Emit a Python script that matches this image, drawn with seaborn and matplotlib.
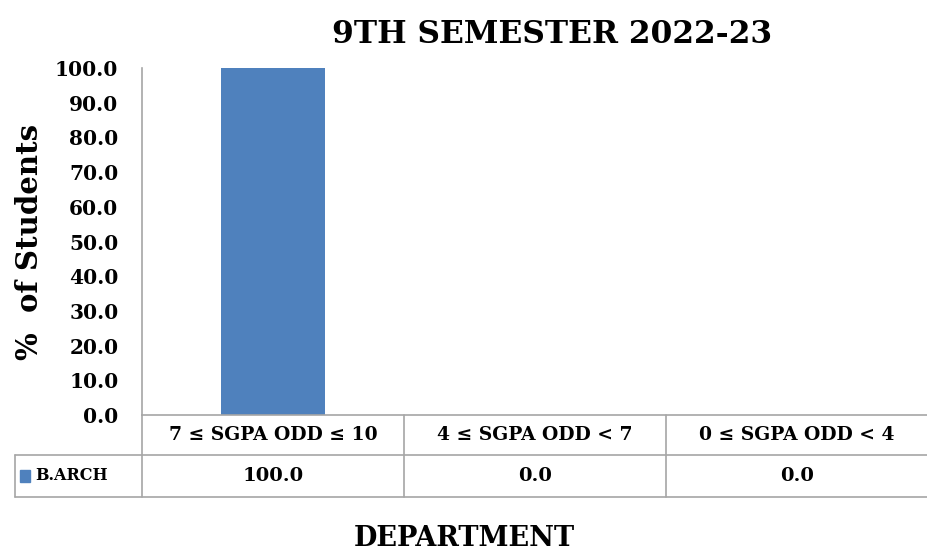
import pandas as pd
import seaborn as sns
import matplotlib.pyplot as plt
from matplotlib.patches import Rectangle
import matplotlib.transforms as mtransforms

# datos
categorias = ["7 ≤ SGPA ODD ≤ 10", "4 ≤ SGPA ODD < 7", "0 ≤ SGPA ODD < 4"]
valores = [100.0, 0.0, 0.0]
serie = "B.ARCH"
yticks = [0, 10, 20, 30, 40, 50, 60, 70, 80, 90, 100]

color_barra = "#4F81BD"
color_linea = "#A6A6A6"

sns.set_style("white")
plt.rcParams["font.family"] = ["DejaVu Serif", "DejaVu Sans"]
plt.rcParams["font.weight"] = "bold"
plt.rcParams["text.color"] = "black"
plt.rcParams["ytick.color"] = "black"
plt.rcParams["axes.labelcolor"] = "black"

df = pd.DataFrame({"categoria": categorias, "valor": valores})

fig = plt.figure(figsize=(9.28, 5.55), dpi=100)
ax = fig.add_axes([142 / 928, 140 / 555, 786 / 928, 347 / 555])

sns.barplot(data=df, x="categoria", y="valor", color=color_barra,
            width=0.4, saturation=1, linewidth=0, ax=ax)

ax.set_xlim(-0.5, 2.5)
ax.set_ylim(0, 100)
ax.set_yticks(yticks)
ax.set_yticklabels([f"{v:.1f}" for v in yticks], fontsize=14.5, fontweight="bold")
ax.tick_params(axis="y", length=0, pad=17)
ax.set_xticks([])
ax.set_xlabel("")
ax.set_ylabel("%  of Students", fontsize=21, fontweight="bold", labelpad=8)
ax.set_title("9TH SEMESTER 2022-23", fontsize=22.5, fontweight="bold", pad=18,
             x=(552 - 142) / 786)

for s in ["top", "right"]:
    ax.spines[s].set_visible(False)
for s in ["left", "bottom"]:
    ax.spines[s].set_color(color_linea)
    ax.spines[s].set_linewidth(1.2)

# tabla de datos debajo del eje
trans = mtransforms.blended_transform_factory(ax.transData, ax.transAxes)
fila1 = -40 / 347
fila2 = -82 / 347
izq = -127 / 786

lk = dict(color=color_linea, lw=1.2, clip_on=False)
ax.plot([-0.5, -0.5], [0, fila2], transform=trans, **lk)
for xb in [0.5, 1.5, 2.5]:
    ax.plot([xb, xb], [0, fila2], transform=trans, **lk)
ax.plot([izq, 1], [fila1, fila1], transform=ax.transAxes, **lk)
ax.plot([izq, 1], [fila2, fila2], transform=ax.transAxes, **lk)
ax.plot([izq, izq], [fila1, fila2], transform=ax.transAxes, **lk)

for i, (cat, val) in enumerate(zip(categorias, valores)):
    ax.text(i, fila1 / 2, cat, transform=trans, ha="center", va="center",
            fontsize=13.5, fontweight="bold")
    ax.text(i, (fila1 + fila2) / 2, f"{val:.1f}", transform=trans,
            ha="center", va="center", fontsize=14, fontweight="bold")

ax.add_patch(Rectangle((izq + 5 / 786, (fila1 + fila2) / 2 - 6 / 347), 10 / 786, 12 / 347,
                       transform=ax.transAxes, color=color_barra, clip_on=False))
ax.text(izq + 20 / 786, (fila1 + fila2) / 2, serie, transform=ax.transAxes,
        ha="left", va="center", fontsize=11.5, fontweight="bold")

fig.text(464 / 928, 1 - 538 / 555, "DEPARTMENT", ha="center", va="center",
         fontsize=19.5, fontweight="bold")

plt.savefig("out.png", dpi=100)
